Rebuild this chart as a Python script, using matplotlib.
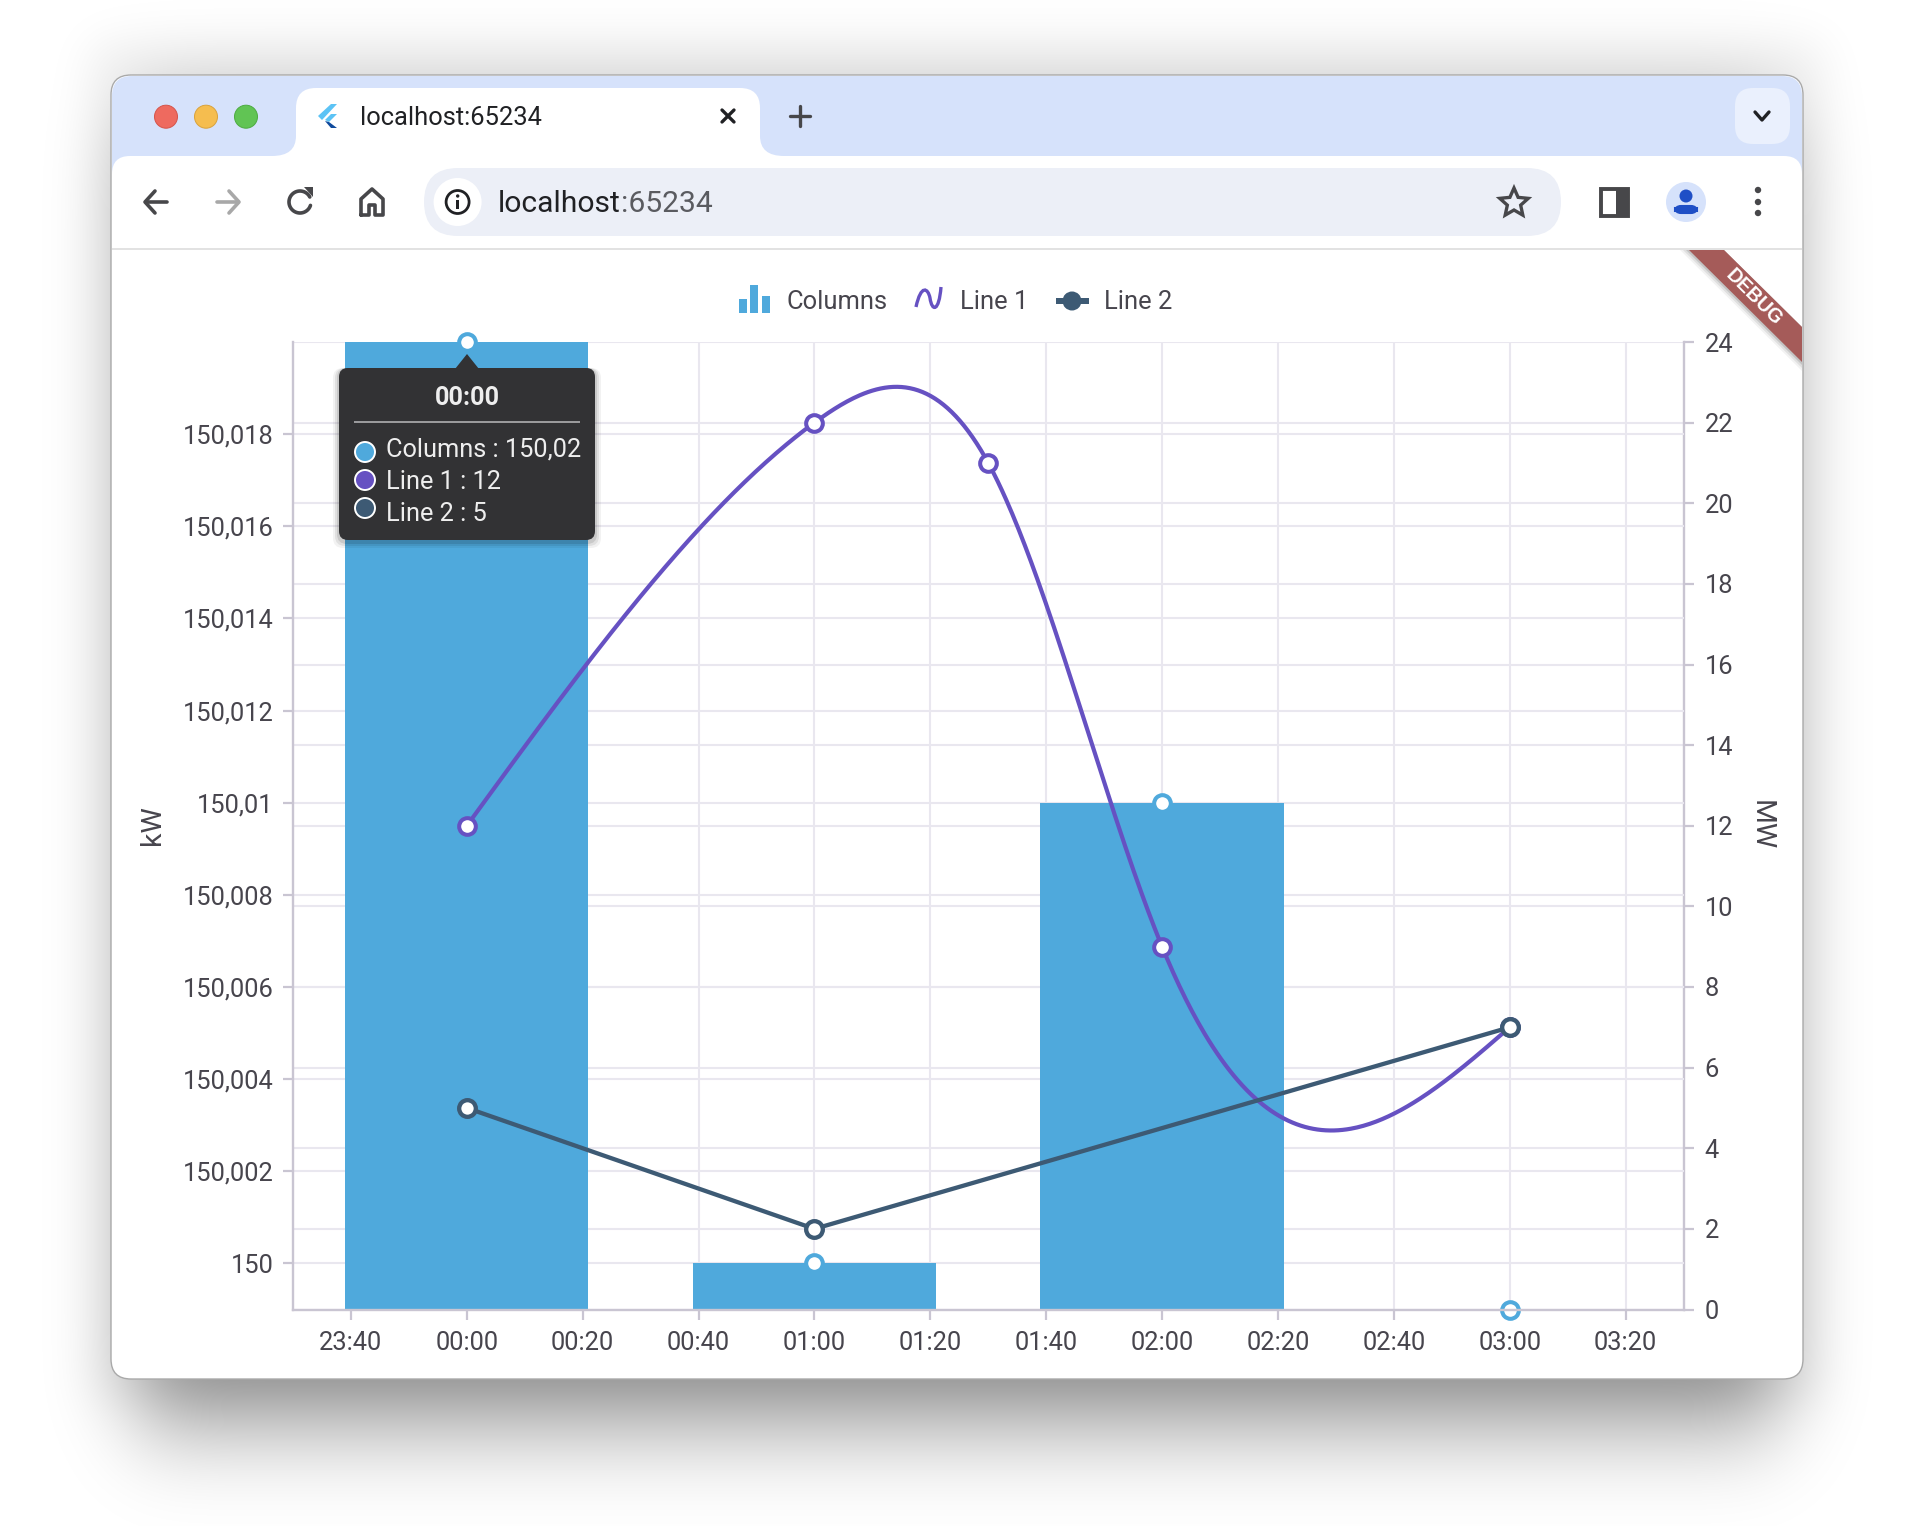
"""Browser window with a Flutter combo chart: columns plus two lines on a second axis."""
import math

import numpy as np
import matplotlib
matplotlib.use("Agg")
import matplotlib.pyplot as plt
from matplotlib.patches import Circle, FancyBboxPatch, PathPatch, Polygon, Rectangle
from matplotlib.path import Path

plt.rcParams["font.family"] = ["Roboto", "DejaVu Sans"]

W, H = 1914, 1526

# ── Data ──────────────────────────────────────────────────────────────
x_tick_minutes = [-20, 0, 20, 40, 60, 80, 100, 120, 140, 160, 180, 200]
x_tick_labels = ["23:40", "00:00", "00:20", "00:40", "01:00", "01:20",
                 "01:40", "02:00", "02:20", "02:40", "03:00", "03:20"]

column_minutes = [0, 60, 120, 180]
column_values = [150.02, 150.0, 150.01, 149.999]

line1_minutes = [0, 60, 90, 120, 180]
line1_values = [12, 22, 21, 9, 7]

line2_minutes = [0, 60, 180]
line2_values = [5, 2, 7]

left_ticks = [150.0, 150.002, 150.004, 150.006, 150.008, 150.01,
              150.012, 150.014, 150.016, 150.018]
left_labels = ["150", "150,002", "150,004", "150,006", "150,008", "150,01",
               "150,012", "150,014", "150,016", "150,018"]
right_ticks = [0, 2, 4, 6, 8, 10, 12, 14, 16, 18, 20, 22, 24]

tooltip_rows = ["Columns : 150,02", "Line 1 : 12", "Line 2 : 5"]

BLUE = "#4FA9DC"
PURPLE = "#6651C2"
SLATE = "#3D5A74"
GRID = "#E9E7EF"
AXIS = "#C9C5D2"
TEXT = "#47454D"
STRIP = "#D6E2FB"
ICON = "#47474A"


def natural_spline(xs, ys, n=500):
    """Natural cubic spline, the smoothing the chart library applies to Line 1."""
    xs, ys = np.asarray(xs, float), np.asarray(ys, float)
    h = np.diff(xs)
    m = len(xs)
    a = np.zeros((m, m))
    b = np.zeros(m)
    a[0, 0] = a[-1, -1] = 1
    for i in range(1, m - 1):
        a[i, i - 1:i + 2] = h[i - 1], 2 * (h[i - 1] + h[i]), h[i]
        b[i] = 6 * ((ys[i + 1] - ys[i]) / h[i] - (ys[i] - ys[i - 1]) / h[i - 1])
    k = np.linalg.solve(a, b)
    t = np.linspace(xs[0], xs[-1], n)
    j = np.clip(np.searchsorted(xs, t) - 1, 0, m - 2)
    u, v = xs[j + 1] - t, t - xs[j]
    y = (k[j] * u ** 3 + k[j + 1] * v ** 3) / (6 * h[j]) \
        + (ys[j] / h[j] - k[j] * h[j] / 6) * u \
        + (ys[j + 1] / h[j] - k[j + 1] * h[j] / 6) * v
    return t, y


def soft_edge(size, lo, hi, sigma):
    erf = np.vectorize(math.erf)
    p = np.arange(size) + 0.5
    return 0.5 * (erf((p - lo) / sigma) - erf((p - hi) / sigma))


def round_box(ax, x0, y0, x1, y1, r, **kw):
    kw.setdefault("lw", 0)
    patch = FancyBboxPatch((x0 + r, y0 + r), x1 - x0 - 2 * r, y1 - y0 - 2 * r,
                           boxstyle=f"round,pad={r},rounding_size={r}", **kw)
    ax.add_patch(patch)
    return patch


def stroke(ax, pts, color=ICON, lw=2.6, **kw):
    xs, ys = zip(*pts)
    ax.plot(xs, ys, color=color, lw=lw, solid_capstyle="round",
            solid_joinstyle="round", **kw)


fig = plt.figure(figsize=(W / 100, H / 100), dpi=100, facecolor="white")

# ── Window behind the chart, drawn in pixel coordinates ───────────────
back = fig.add_axes([0, 0, 1, 1], zorder=0)
back.set_xlim(0, W)
back.set_ylim(H, 0)
back.axis("off")

shade = 0.40 * np.outer(soft_edge(H, 115, 1428, 66), soft_edge(W, 135, 1780, 55))
shade += 0.05 * np.outer(soft_edge(H, 40, 1400, 30), soft_edge(W, 90, 1824, 30))
shadow = np.zeros((H, W, 4))
shadow[..., 3] = np.clip(shade, 0, 1)
back.imshow(shadow, extent=(0, W, H, 0), aspect="auto", interpolation="bilinear")
back.set_xlim(0, W)
back.set_ylim(H, 0)

round_box(back, 111, 75, 1803, 1379, 20, fc="white", ec="#A9A9A9", lw=1.0)
round_box(back, 112, 76, 1802, 190, 20, fc=STRIP)
round_box(back, 112, 156, 1802, 300, 18, fc="white")
back.add_patch(Rectangle((112, 248), 1690, 2.2, fc="#E2E2E2", lw=0))

tab_path = Path(
    [(272, 156), (296, 156), (296, 136), (296, 108), (296, 88), (316, 88),
     (740, 88), (760, 88), (760, 108), (760, 136), (760, 156), (784, 156),
     (272, 156)],
    [Path.MOVETO, Path.CURVE3, Path.CURVE3, Path.LINETO, Path.CURVE3, Path.CURVE3,
     Path.LINETO, Path.CURVE3, Path.CURVE3, Path.LINETO, Path.CURVE3, Path.CURVE3,
     Path.CLOSEPOLY])
back.add_patch(PathPatch(tab_path, fc="white", lw=0))

for cx, col, rim in [(166, "#EE6A5F", "#D5544A"), (206, "#F5BD4F", "#D9A23C"),
                     (246, "#61C454", "#4DAB41")]:
    back.add_patch(Circle((cx, 116.7), 11.5, fc=col, ec=rim, lw=0.7))

# flutter favicon
back.add_patch(Polygon([(318, 116), (331, 104), (337, 104), (322, 120)], fc="#5CC3F5", lw=0))
back.add_patch(Polygon([(325, 120), (331, 114), (337, 114), (329, 122)], fc="#5CC3F5", lw=0))
back.add_patch(Polygon([(325, 121), (329, 122), (337, 128), (331, 128)], fc="#0F4A9C", lw=0))

back.text(360, 118, "localhost:65234", fontsize=18.4, color="#202124", va="center")
stroke(back, [(722, 110), (734, 122)], color="#202124", lw=2.4)
stroke(back, [(734, 110), (722, 122)], color="#202124", lw=2.4)
stroke(back, [(800, 106), (800, 126)], lw=2.4)
stroke(back, [(790, 116), (810, 116)], lw=2.4)
round_box(back, 1735, 88, 1790, 144, 18, fc="#EAF0FD")
stroke(back, [(1755, 112), (1762, 120), (1769, 112)], color="#202124", lw=2.4)

# toolbar icons
stroke(back, [(167, 202), (146, 202)])
stroke(back, [(155, 191), (145, 202), (155, 213)])
stroke(back, [(217, 202), (238, 202)], color="#A8A8A8")
stroke(back, [(229, 191), (239, 202), (229, 213)], color="#A8A8A8")
t = np.linspace(0.15 * np.pi, 1.9 * np.pi, 60)
stroke(back, list(zip(300 + 11 * np.cos(t), 202 - 11 * np.sin(t))))
back.add_patch(Polygon([(304, 187), (313, 187), (313, 197)], fc=ICON, lw=0))
stroke(back, [(361, 215), (361, 199), (372, 189), (383, 199), (383, 215), (375, 215),
              (375, 205), (369, 205), (369, 215), (361, 215)])

round_box(back, 424, 168, 1561, 236, 34, fc="#ECEFF7")
back.add_patch(Circle((457.6, 202), 24, fc="white", lw=0))
back.add_patch(Circle((457.6, 202), 11.5, fc="none", ec="#202124", lw=2))
back.add_patch(Rectangle((456.4, 200), 2.6, 9, fc="#202124", lw=0))
back.add_patch(Circle((457.7, 196), 1.7, fc="#202124", lw=0))
host = back.text(498, 204.5, "localhost", fontsize=21.6, color="#202124", va="center")
back.annotate(":65234", xy=(1, 0), xycoords=host, va="bottom", fontsize=21.6, color="#5A5B60")

star = []
for i in range(10):
    rad = 15 if i % 2 == 0 else 7
    ang = -np.pi / 2 + i * np.pi / 5
    star.append((1514 + rad * np.cos(ang), 203 + rad * np.sin(ang)))
back.add_patch(Polygon(star, closed=True, fc="none", ec=ICON, lw=2.4, joinstyle="miter"))

back.add_patch(Rectangle((1601, 189), 27, 27, fc="white", ec=ICON, lw=2.8))
back.add_patch(Rectangle((1616, 189), 12, 27, fc=ICON, lw=0))
back.add_patch(Circle((1686, 202), 20, fc=STRIP, lw=0))
back.add_patch(Circle((1686, 196), 6.5, fc="#1F4FC6", lw=0))
back.add_patch(FancyBboxPatch((1675, 206), 22, 7, boxstyle="round,pad=0,rounding_size=6",
                              fc="#1F4FC6", ec="#1F4FC6", lw=1.5))
for dot_y in (190, 202, 213):
    back.add_patch(Circle((1758, dot_y), 3.2, fc=ICON, lw=0))

# legend
for x0, top in [(739, 299), (750, 285), (762, 296)]:
    back.add_patch(Rectangle((x0, top), 7.5, 313 - top, fc=BLUE, lw=0))
back.text(786, 302, "Columns", fontsize=18.4, color=TEXT, va="center")
wave = Path([(916, 307), (921, 284), (928, 288), (930, 298), (932, 312), (939, 312), (941, 287)],
            [Path.MOVETO, Path.CURVE4, Path.CURVE4, Path.CURVE4, Path.CURVE4, Path.CURVE4, Path.CURVE4])
back.add_patch(PathPatch(wave, fc="none", ec=PURPLE, lw=2.4))
back.text(960.5, 302, "Line 1", fontsize=18.4, color=TEXT, va="center")
back.add_patch(Rectangle((1056, 298), 33, 6, fc=SLATE, lw=0))
back.add_patch(Circle((1072, 301), 9.5, fc=SLATE, lw=0))
back.text(1103.5, 302, "Line 2", fontsize=18.4, color=TEXT, va="center")

back.text(152, 825, "kW", fontsize=20.5, color=TEXT, rotation=90, ha="center", va="center")
back.text(1761, 825, "MW", fontsize=20.5, color=TEXT, rotation=270, ha="center", va="center")

# ── Chart ─────────────────────────────────────────────────────────────
rect = [293 / W, 1 - 1309.5 / H, (1683.5 - 293) / W, (1309.5 - 342) / H]
ax = fig.add_axes(rect, zorder=2)
ax.patch.set_visible(False)
ax_right = ax.twinx()
ax_right.set_zorder(1)
ax_lines = ax.twinx()
ax_lines.set_zorder(3)

ax.set_xlim(-30, 210)
ax.set_ylim(149.999, 150.02)
ax_right.set_ylim(0, 24)
ax_lines.set_ylim(0, 24)

ax.set_xticks(x_tick_minutes, x_tick_labels)
ax.set_yticks(left_ticks, left_labels)
ax_right.set_yticks(right_ticks)
ax_lines.axis("off")

ax_right.grid(axis="y", color=GRID, lw=1.5)
ax_right.set_axisbelow(True)
ax.grid(True, color=GRID, lw=1.5)
ax.set_axisbelow(True)

for a in (ax, ax_right):
    a.tick_params(length=7.2, width=1.6, color=AXIS, labelcolor=TEXT, labelsize=18.4, pad=8)
    for side, spine in a.spines.items():
        spine.set_color(AXIS)
        spine.set_linewidth(1.7)
    a.spines["top"].set_visible(False)
ax.tick_params(axis="x", pad=8.5)
ax.tick_params(axis="y", pad=7)
ax_right.tick_params(axis="y", pad=8)
ax.spines["right"].set_visible(False)
ax_right.spines["left"].set_visible(False)
ax_right.spines["bottom"].set_visible(False)
for s in ax_lines.spines.values():
    s.set_visible(False)

# markers sit under the axis line, which shows through the 03:00 ring
ax.bar(column_minutes, np.array(column_values) - 149.999, width=42, bottom=149.999,
       color=BLUE, zorder=1.5)
ax.plot(column_minutes, column_values, ls="none", marker="o", ms=12, mfc="white",
        mec=BLUE, mew=2.9, clip_on=False, zorder=1.8)

spline_x, spline_y = natural_spline(line1_minutes, line1_values)
ax_lines.plot(spline_x, spline_y, color=PURPLE, lw=3, zorder=2)
ax_lines.plot(line1_minutes, line1_values, ls="none", marker="o", ms=12, mfc="white",
              mec=PURPLE, mew=2.9, clip_on=False, zorder=3)
ax_lines.plot(line2_minutes, line2_values, color=SLATE, lw=3.1, marker="o", ms=12,
              mfc="white", mec=SLATE, mew=3.1, clip_on=False, zorder=4)

# ── Ribbon and tooltip over the chart ─────────────────────────────────
front = fig.add_axes([0, 0, 1, 1], zorder=5)
front.set_xlim(0, W)
front.set_ylim(H, 0)
front.axis("off")
front.patch.set_visible(False)

for off, alpha in [(9, 0.05), (6, 0.08), (3, 0.12)]:
    front.add_patch(Polygon([(1689 - off, 250), (1724, 250), (1802, 327), (1802, 362 + off)],
                            fc="black", alpha=alpha, lw=0))
front.add_patch(Polygon([(1689, 250), (1724, 250), (1802, 327), (1802, 362)], fc="#A55B59", lw=0))
front.text(1754, 297, "DEBUG", fontsize=14.2, fontweight="bold", color="white",
           rotation=-45, rotation_mode="anchor", ha="center", va="center",
           family=["Liberation Sans", "DejaVu Sans"])

for grow, alpha in [(6, 0.05), (4, 0.07), (2, 0.1)]:
    round_box(front, 339 - grow, 368, 595 + grow, 540 + grow + 2, 10, fc="black", alpha=alpha)
round_box(front, 339, 368, 595, 540, 9, fc="#323234")
front.add_patch(Polygon([(455, 369), (467, 354), (479, 369)], fc="#323234", lw=0))
front.text(467, 398, "00:00", fontsize=18.2, fontweight="bold", color="#EEEEEE",
           ha="center", va="center")
front.add_patch(Rectangle((354, 421), 226, 1.6, fc="#9A9A9C", lw=0))
for row, ty, cy, col in zip(tooltip_rows, (450, 482, 514), (452, 480, 508), (BLUE, PURPLE, SLATE)):
    front.add_patch(Circle((365, cy), 10, fc=col, ec="white", lw=1.4))
    front.text(385.5, ty, row, fontsize=18.3, color="#EEEEEE", va="center")

fig.savefig("out.png", dpi=100)
